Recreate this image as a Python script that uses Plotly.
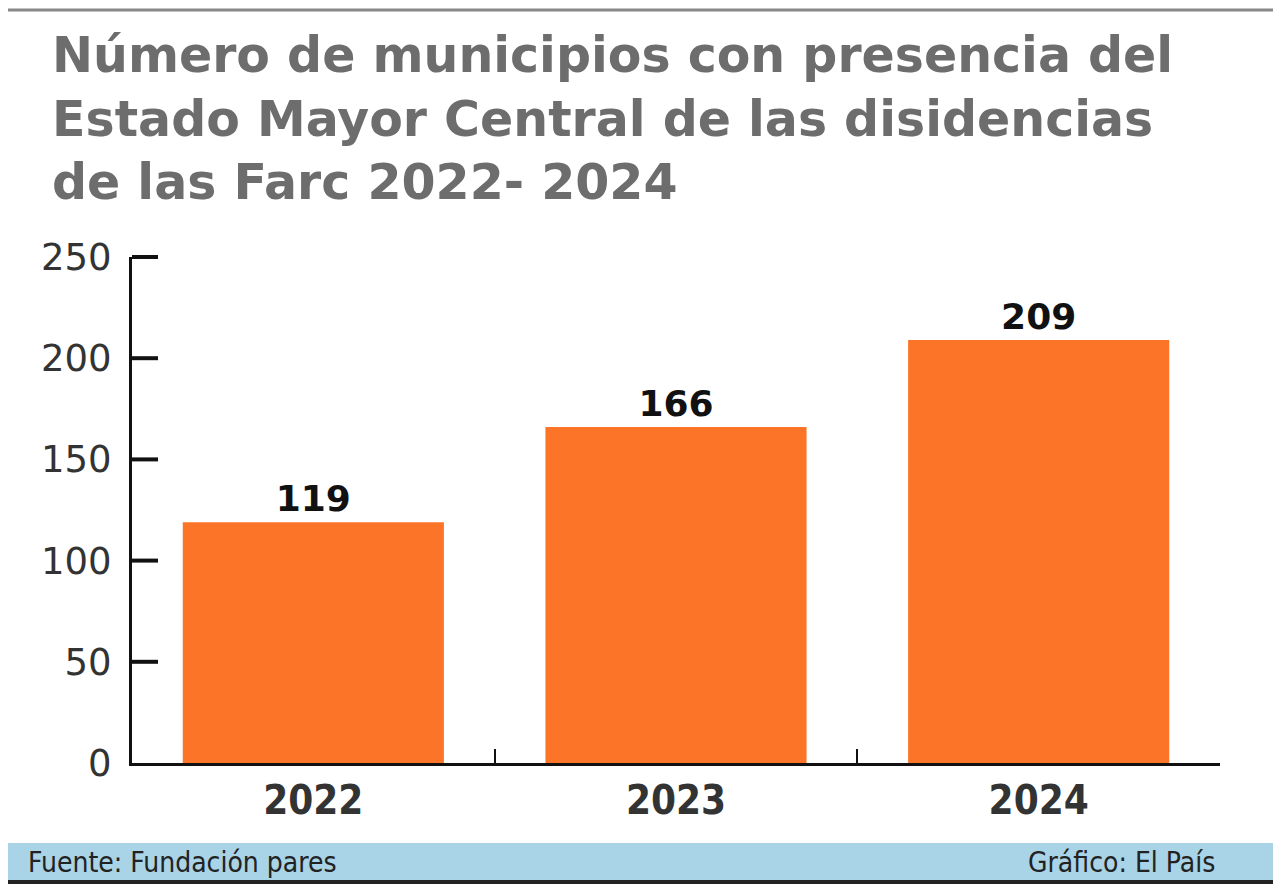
import plotly.graph_objects as go

years = ["2022", "2023", "2024"]
municipios = [119, 166, 209]
y_ticks = [0, 50, 100, 150, 200, 250]
y_max = 250

title_lines = [
    "Número de municipios con presencia del",
    "Estado Mayor Central de las disidencias",
    "de las Farc 2022- 2024",
]

# page has an 8px body offset, so margins are shifted to compensate
L, R, T, B = 124, 69, 249, 130
W = 1281 - L - R
H = 885 - T - B

fig = go.Figure(go.Bar(
    x=years, y=municipios, width=0.72,
    marker=dict(color="#fb7427", line=dict(width=0)),
    text=municipios, textposition="outside",
    texttemplate="<b>%{text}</b>",
    textfont=dict(family="DejaVu Sans", size=36, color="#111111"),
    cliponaxis=False,
))

fig.update_layout(
    width=1281, height=885,
    margin=dict(l=L, r=R, t=T, b=B),
    paper_bgcolor="white", plot_bgcolor="white",
    showlegend=False,
    font=dict(family="DejaVu Sans", color="#333333"),
)

fig.update_xaxes(
    range=[-0.5, 2.5], showline=True, linecolor="#111111", linewidth=3,
    ticks="inside", ticklen=14, tickwidth=2, tickcolor="#111111",
    tickson="boundaries", showgrid=False,
    tickfont=dict(family="DejaVu Sans Condensed", size=40, color="#333333"),
    tickprefix="<b>", ticksuffix="</b>",
)
fig.update_yaxes(
    range=[0, y_max], tickvals=y_ticks, showline=True, linecolor="#111111",
    linewidth=3, ticks="", showgrid=False, zeroline=False,
    ticklabelstandoff=10,
    tickfont=dict(family="DejaVu Sans", size=37, color="#333333"),
)

# tick marks pointing into the plot, placed by fraction of the y range
for v in y_ticks[1:]:
    fig.add_shape(type="line", xref="paper", yref="paper",
                  x0=0, x1=26 / W, y0=v / y_max, y1=v / y_max,
                  line=dict(color="#111111", width=4))

# positions below are given in reference pixels relative to the plot area
def px(x):
    return (x - 132) / W

def py(y):
    return (763 - y) / H

for i, line in enumerate(title_lines):
    fig.add_annotation(
        text="<b>" + line + "</b>", xref="paper", yref="paper",
        x=px(50), y=py(55 + 64 * i),
        xanchor="left", yanchor="middle", showarrow=False,
        font=dict(family="DejaVu Sans", size=49, color="#6d6d6d"),
    )

# footer band and borders
fig.add_shape(type="rect", xref="paper", yref="paper",
              x0=px(-10), x1=px(1300), y0=py(880), y1=py(843),
              fillcolor="#a9d3e6", line=dict(width=0), layer="below")
fig.add_shape(type="line", xref="paper", yref="paper",
              x0=px(-10), x1=px(1300), y0=py(882), y1=py(882),
              line=dict(color="#222222", width=4))
fig.add_shape(type="line", xref="paper", yref="paper",
              x0=px(-10), x1=px(1300), y0=py(10), y1=py(10),
              line=dict(color="#888888", width=3))
fig.add_annotation(text="Fuente: Fundación pares", xref="paper", yref="paper",
                   x=px(26), y=py(862), xanchor="left", yanchor="middle",
                   showarrow=False,
                   font=dict(family="DejaVu Sans Condensed", size=28, color="#222222"))
fig.add_annotation(text="Gráfico: El País", xref="paper", yref="paper",
                   x=px(1217), y=py(862), xanchor="right", yanchor="middle",
                   showarrow=False,
                   font=dict(family="DejaVu Sans Condensed", size=28, color="#222222"))

fig.write_html("out.html")
